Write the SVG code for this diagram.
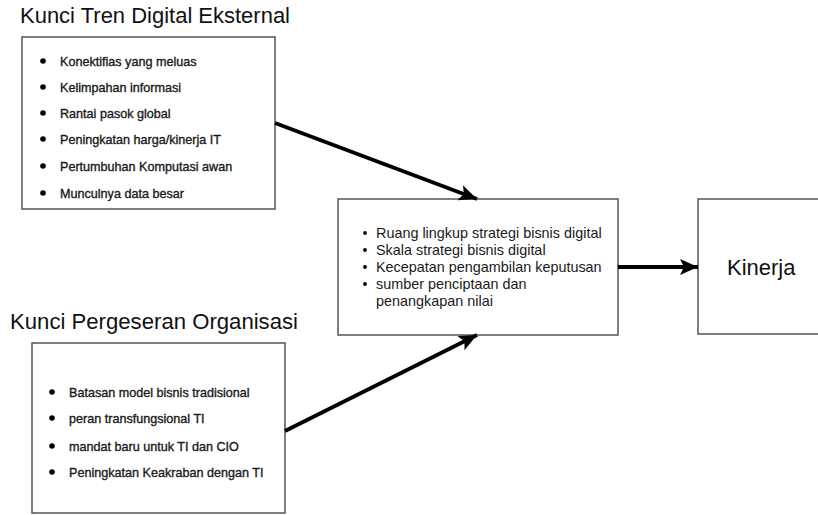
<svg xmlns="http://www.w3.org/2000/svg" width="818" height="515" viewBox="0 0 818 515">
  <defs>
    <marker id="arrowhead" markerUnits="userSpaceOnUse" markerWidth="20" markerHeight="18" refX="18" refY="9" orient="auto">
      <path d="M0,1 L18,9 L0,17 L4,9 Z" fill="#000"/>
    </marker>
    <style>
      .box { fill: #fff; stroke: #555; stroke-width: 1.5; }
      .title { font-family: "Liberation Sans", Arial, sans-serif; font-size: 21.5px; fill: #111; }
      .item { font-family: "Liberation Sans", Arial, sans-serif; font-size: 12.6px; fill: #1a1a1a; stroke: #1a1a1a; stroke-width: 0.35; }
      .mid { font-family: "Liberation Sans", Arial, sans-serif; font-size: 14.4px; fill: #1a1a1a; }
      .big { font-family: "Liberation Sans", Arial, sans-serif; font-size: 22px; fill: #111; }
      .dot { fill: #000; }
      .link { fill: none; stroke: #000; stroke-width: 4; }
    </style>
  </defs>
  <rect width="818" height="515" fill="#fff"/>

  <!-- External digital trends -->
  <g id="tren-digital">
    <text class="title" x="20" y="23" textLength="270" lengthAdjust="spacingAndGlyphs">Kunci Tren Digital Eksternal</text>
    <rect class="box" x="22" y="37" width="253" height="172"/>
    <circle class="dot" cx="43" cy="61" r="2.8"/>
    <text class="item" x="60" y="65.5">Konektifias yang meluas</text>
    <circle class="dot" cx="43" cy="87" r="2.8"/>
    <text class="item" x="60" y="91.5">Kelimpahan informasi</text>
    <circle class="dot" cx="43" cy="113" r="2.8"/>
    <text class="item" x="60" y="117.5">Rantai pasok global</text>
    <circle class="dot" cx="43" cy="139" r="2.8"/>
    <text class="item" x="60" y="143.5">Peningkatan harga/kinerja IT</text>
    <circle class="dot" cx="43" cy="166" r="2.8"/>
    <text class="item" x="60" y="170.5">Pertumbuhan Komputasi awan</text>
    <circle class="dot" cx="43" cy="193" r="2.8"/>
    <text class="item" x="60" y="197.5">Munculnya data besar</text>
  </g>

  <!-- Organisational shifts -->
  <g id="pergeseran-organisasi">
    <text class="title" x="10" y="329" textLength="288" lengthAdjust="spacingAndGlyphs">Kunci Pergeseran Organisasi</text>
    <rect class="box" x="32" y="343" width="253" height="170"/>
    <circle class="dot" cx="52" cy="392" r="2.8"/>
    <text class="item" x="69" y="396.5">Batasan model bisnis tradisional</text>
    <circle class="dot" cx="52" cy="418" r="2.8"/>
    <text class="item" x="69" y="422.5">peran transfungsional TI</text>
    <circle class="dot" cx="52" cy="446" r="2.8"/>
    <text class="item" x="69" y="450.5">mandat baru untuk TI dan CIO</text>
    <circle class="dot" cx="52" cy="472" r="2.8"/>
    <text class="item" x="69" y="476.5">Peningkatan Keakraban dengan TI</text>
  </g>

  <!-- Digital business strategy -->
  <g id="strategi">
    <rect class="box" x="338" y="199" width="280" height="136"/>
    <circle class="dot" cx="365" cy="233" r="1.9"/>
    <text class="mid" x="376" y="238">Ruang lingkup strategi bisnis digital</text>
    <circle class="dot" cx="365" cy="250" r="1.9"/>
    <text class="mid" x="376" y="255">Skala strategi bisnis digital</text>
    <circle class="dot" cx="365" cy="267" r="1.9"/>
    <text class="mid" x="376" y="272">Kecepatan pengambilan keputusan</text>
    <circle class="dot" cx="365" cy="284" r="1.9"/>
    <text class="mid" x="376" y="289">sumber penciptaan dan</text>
    <text class="mid" x="376" y="306">penangkapan nilai</text>
  </g>

  <!-- Performance -->
  <g id="kinerja">
    <rect class="box" x="698" y="199" width="140" height="135"/>
    <text class="big" x="727" y="275">Kinerja</text>
  </g>

  <g id="connectors">
    <line class="link" x1="275" y1="123" x2="477" y2="199" marker-end="url(#arrowhead)"/>
    <line class="link" x1="285" y1="431" x2="477" y2="335" marker-end="url(#arrowhead)"/>
    <line class="link" x1="618" y1="267" x2="698" y2="267" stroke-width="5" marker-end="url(#arrowhead)"/>
  </g>
</svg>
